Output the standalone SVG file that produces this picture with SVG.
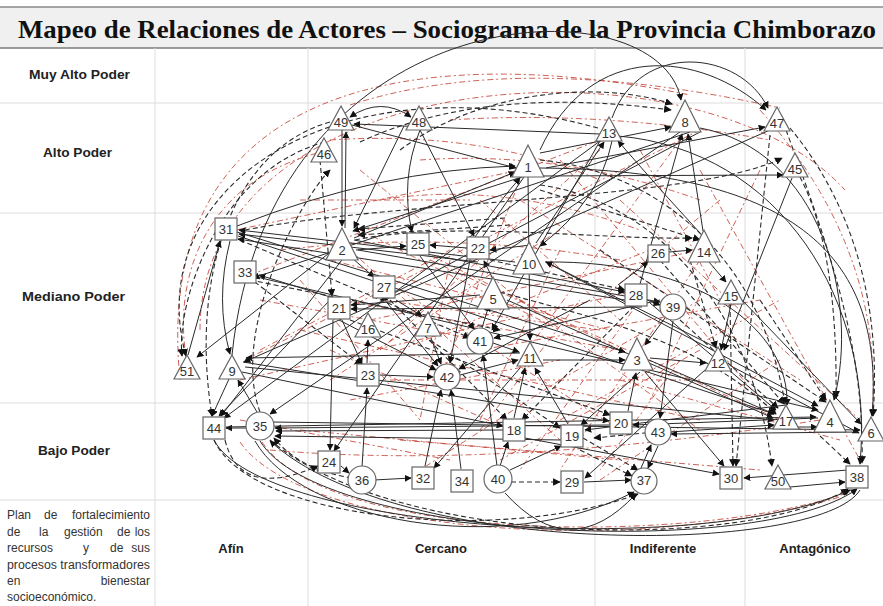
<svg xmlns="http://www.w3.org/2000/svg" xmlns:xlink="http://www.w3.org/1999/xlink" width="883" height="606" viewBox="0 0 883 606">
<style>
.g{stroke:#dcdcdc;stroke-width:1;fill:none}
.s{stroke:#2a2a2a;stroke-width:1;fill:none;marker-end:url(#a)}
.d{stroke:#2a2a2a;stroke-width:1.1;fill:none;stroke-dasharray:5,3;marker-end:url(#a)}
.r{stroke:#c0392b;stroke-width:1;fill:none;stroke-dasharray:6,3,2,3;opacity:.8}
.sh{fill:#fff;stroke:#666;stroke-width:1.2}
.lb{font-family:"Liberation Sans",Arial,sans-serif;font-size:13px;text-anchor:middle;fill:#333}
.rl{font-family:"Liberation Sans",Arial,sans-serif;font-size:13px;font-weight:bold;fill:#222}
.cl{font-family:"Liberation Sans",Arial,sans-serif;font-size:13px;font-weight:bold;fill:#222;text-anchor:middle}
.pt{font-family:"Liberation Sans",Arial,sans-serif;font-size:12px;fill:#333}
</style>
<defs>
<marker id="a" viewBox="0 0 10 10" refX="9" refY="5" markerWidth="7" markerHeight="7" orient="auto"><path d="M0,0 L10,5 L0,10z" fill="#111"/></marker>
<marker id="b" viewBox="0 0 10 10" refX="1" refY="5" markerWidth="7" markerHeight="7" orient="auto"><path d="M10,0 L0,5 L10,10z" fill="#111"/></marker>
<polygon id="t" class="sh" points="0,0 -13,24 13,24"/>
<polygon id="T" class="sh" points="0,0 -16,32 16,32"/>
<rect id="q" class="sh" x="-11" y="-11" width="22" height="22"/>
<circle id="c" class="sh" r="13"/>
</defs>
<rect width="883" height="606" fill="#fff"/>
<g id="grid">
<rect x="0" y="7" width="883" height="41" fill="#f0f0f0"/>
<line x1="0" y1="7" x2="883" y2="7" stroke="#8a8a8a" stroke-width="1.5"/>
<line x1="0" y1="48" x2="883" y2="48" stroke="#7a7a7a" stroke-width="1.5"/>
<line class="g" x1="0" y1="103" x2="883" y2="103"/>
<line class="g" x1="0" y1="213" x2="883" y2="213"/>
<line class="g" x1="0" y1="403" x2="883" y2="403"/>
<line class="g" x1="0" y1="500" x2="883" y2="500"/>
<line class="g" x1="155" y1="48" x2="155" y2="606"/>
<line class="g" x1="308" y1="48" x2="308" y2="606"/>
<line class="g" x1="595" y1="48" x2="595" y2="606"/>
<line class="g" x1="745" y1="48" x2="745" y2="606"/>
</g>
<text x="18" y="38" textLength="858" lengthAdjust="spacingAndGlyphs" font-family="Liberation Serif,Times New Roman,serif" font-size="26" font-weight="bold" fill="#111">Mapeo de Relaciones de Actores – Sociograma de la Provincia Chimborazo</text>
<g id="labels">
<text class="rl" x="29" y="79" textLength="101" lengthAdjust="spacingAndGlyphs">Muy Alto Poder</text>
<text class="rl" x="43" y="157" textLength="69" lengthAdjust="spacingAndGlyphs">Alto Poder</text>
<text class="rl" x="22" y="301" textLength="103" lengthAdjust="spacingAndGlyphs">Mediano Poder</text>
<text class="rl" x="38" y="455" textLength="72" lengthAdjust="spacingAndGlyphs">Bajo Poder</text>
<text class="cl" x="231" y="553">Afín</text>
<text class="cl" x="441" y="553">Cercano</text>
<text class="cl" x="663" y="553">Indiferente</text>
<text class="cl" x="815" y="553">Antagónico</text>
<text class="pt" y="519"><tspan x="7">Plan</tspan><tspan x="44">de</tspan><tspan x="150" text-anchor="end">fortalecimiento</tspan></text>
<text class="pt" y="536"><tspan x="7">de</tspan><tspan x="39">la</tspan><tspan x="64">gestión</tspan><tspan x="117">de</tspan><tspan x="150" text-anchor="end">los</tspan></text>
<text class="pt" y="552"><tspan x="7">recursos</tspan><tspan x="83">y</tspan><tspan x="110">de</tspan><tspan x="150" text-anchor="end">sus</tspan></text>
<text class="pt" y="569" x="7" textLength="143" lengthAdjust="spacingAndGlyphs">procesos transformadores</text>
<text class="pt" y="585"><tspan x="7">en</tspan><tspan x="150" text-anchor="end">bienestar</tspan></text>
<text class="pt" y="601" x="7">socioeconómico.</text>
</g>
<g id="connectors">
<g id="red">
<path class="r" d="M200,330 C200,60 700,30 845,190"/>
<path class="r" d="M180,380 C150,80 420,40 690,95"/>
<path class="r" d="M350,105 Q520,50 780,108"/>
<path class="r" d="M760,110 Q885,250 872,416"/>
<path class="r" d="M190,375 C170,300 190,180 330,150"/>
<path class="r" d="M262,442 C330,545 700,545 850,492"/>
<path class="r" d="M240,442 C300,530 620,560 840,497"/>
<path class="r" d="M236,230 L520,170"/>
<path class="r" d="M250,275 L600,140"/>
<path class="r" d="M245,360 L700,130"/>
<path class="r" d="M340,300 L620,350"/>
<path class="r" d="M370,320 L700,250"/>
<path class="r" d="M420,250 L640,360"/>
<path class="r" d="M480,350 L760,300"/>
<path class="r" d="M430,260 L780,420"/>
<path class="r" d="M350,250 L560,440"/>
<path class="r" d="M400,290 L620,430"/>
<path class="r" d="M330,350 L510,430"/>
<path class="r" d="M260,300 L480,340"/>
<path class="r" d="M240,380 L640,290"/>
<path class="r" d="M390,380 L700,380"/>
<path class="r" d="M520,180 L440,380"/>
<path class="r" d="M600,150 L380,350"/>
<path class="r" d="M680,140 L520,360"/>
<path class="r" d="M700,260 L560,470"/>
<path class="r" d="M640,300 L520,470"/>
<path class="r" d="M760,170 L650,400"/>
<path class="r" d="M560,420 L780,300"/>
<path class="r" d="M360,170 L520,300"/>
<path class="r" d="M300,200 L470,200"/>
<path class="r" d="M420,160 Q560,150 700,200"/>
<path class="r" d="M450,120 Q600,110 770,140"/>
<path class="r" d="M380,200 Q500,180 640,230"/>
<path class="r" d="M520,200 L800,380"/>
<path class="r" d="M620,200 L860,420"/>
<path class="r" d="M700,170 L860,460"/>
<path class="r" d="M240,420 L450,460"/>
<path class="r" d="M300,430 L620,460"/>
<path class="r" d="M400,440 L760,470"/>
<path class="r" d="M270,450 Q500,470 820,420"/>
<path class="r" d="M480,430 L580,300"/>
<path class="r" d="M600,480 L780,360"/>
<path class="r" d="M450,300 L560,230"/>
<path class="r" d="M700,350 L500,460"/>
<path class="r" d="M330,380 L470,290"/>
<path class="r" d="M280,250 Q450,230 620,260"/>
<path class="r" d="M330,140 Q480,130 600,180"/>
<path class="r" d="M640,150 L720,300"/>
<path class="r" d="M560,160 L760,400"/>
<path class="r" d="M300,330 L700,420"/>
<path class="r" d="M330,260 L610,330"/>
<path class="r" d="M360,230 L560,330"/>
<path class="r" d="M400,350 L650,250"/>
<path class="r" d="M450,260 L420,420"/>
<path class="r" d="M560,250 L480,420"/>
<path class="r" d="M600,330 L380,300"/>
<path class="r" d="M700,300 L560,380"/>
<path class="r" d="M520,300 L700,430"/>
<path class="r" d="M350,400 L560,360"/>
<path class="r" d="M260,350 L450,250"/>
<path class="r" d="M620,380 L840,440"/>
<path class="r" d="M560,380 L420,470"/>
<path class="r" d="M680,360 L600,470"/>
<path class="r" d="M300,280 L420,420"/>
<path class="r" d="M480,200 L620,320"/>
<path class="r" d="M720,200 L600,300"/>
</g>
<g id="dashed">
<path class="d" d="M598,128 C330,55 140,190 186,356"/>
<path class="d" d="M325,142 C220,170 176,300 182,356"/>
<path class="d" d="M330,122 C230,150 190,280 212,416"/>
<path class="d" d="M400,150 C480,90 600,80 672,104"/>
<path class="d" d="M360,142 C450,100 560,95 671,110"/>
<path class="d" d="M790,128 C850,200 882,300 873,416"/>
<path class="d" d="M800,177 Q838,250 836,398"/>
<path class="d" d="M786,130 C830,250 865,350 862,463"/>
<path class="d" d="M214,440 C250,520 500,545 638,494"/>
<path class="d" d="M270,440 C400,550 750,550 848,489"/>
<path class="d" d="M505,218 L358,229"/>
<path class="d" d="M510,225 L358,235"/>
<path class="d" d="M511,482 L560,482"/>
<path class="d" d="M583,438 L638,470"/>
<path class="d" d="M355,240 C450,220 600,240 692,238"/>
<path class="d" d="M540,190 L700,240"/>
<path class="d" d="M490,260 L625,290"/>
<path class="d" d="M250,280 L500,330"/>
<path class="d" d="M240,240 L470,338"/>
<path class="d" d="M390,300 L507,420"/>
<path class="d" d="M430,340 L560,428"/>
<path class="d" d="M350,320 L610,415"/>
<path class="d" d="M690,260 L716,348"/>
<path class="d" d="M760,300 L826,400"/>
<path class="d" d="M540,160 C650,170 760,250 785,404"/>
<path class="d" d="M320,160 L332,296"/>
<path class="d" d="M242,272 L362,365"/>
<path class="d" d="M680,320 L778,408"/>
<path class="d" d="M600,250 L826,402"/>
<path class="d" d="M660,260 L784,404"/>
<path class="d" d="M245,230 C400,200 700,200 782,158"/>
<path class="d" d="M540,185 C650,200 750,300 772,466"/>
<path class="d" d="M770,135 L736,466"/>
<path class="d" d="M730,304 L733,466"/>
<path class="d" d="M580,450 L632,476"/>
<path class="d" d="M640,300 L522,420"/>
<path class="d" d="M352,478 Q300,470 274,438"/>
<path class="d" d="M225,440 Q240,500 318,466"/>
<path class="d" d="M820,436 L850,464"/>
<path class="d" d="M260,412 C230,330 300,200 330,170"/>
<path class="d" d="M500,292 C600,320 700,340 776,414"/>
<path class="d" d="M655,432 L594,438"/>
</g>
<g id="solid">
<path class="s" d="M232,355 C270,-10 660,-20 681,100"/>
<path class="s" d="M540,150 C590,40 700,50 766,110"/>
<path class="s" d="M612,118 C640,40 740,50 768,108"/>
<path class="s" d="M350,117 Q381,96 411,117" marker-start="url(#b)"/>
<path class="s" d="M600,134 L354,124"/>
<path class="s" d="M540,153 L671,127"/>
<path class="s" d="M540,176 L783,175"/>
<path class="s" d="M546,168 L765,127"/>
<path class="s" d="M703,231 L688,134"/>
<path class="s" d="M237,226 Q380,170 515,166"/>
<path class="s" d="M352,125 L516,168"/>
<path class="s" d="M354,238 L515,172"/>
<path class="s" d="M525,176 L353,231"/>
<path class="s" d="M475,237 Q500,200 520,178"/>
<path class="s" d="M612,141 Q600,200 540,246"/>
<path class="s" d="M536,243 L604,142"/>
<path class="s" d="M700,233 Q660,190 618,141"/>
<path class="s" d="M640,284 L682,134"/>
<path class="s" d="M188,355 L220,241"/>
<path class="s" d="M333,250 L197,357"/>
<path class="s" d="M230,241 Q215,300 230,354"/>
<path class="s" d="M520,353 L246,358"/>
<path class="s" d="M340,300 L259,275"/>
<path class="s" d="M515,262 L239,230"/>
<path class="s" d="M478,262 L239,234"/>
<path class="s" d="M330,300 L219,416"/>
<path class="s" d="M345,256 L221,416"/>
<path class="s" d="M503,430 L276,431"/>
<path class="s" d="M562,440 L275,436"/>
<path class="s" d="M610,425 L275,428"/>
<path class="s" d="M246,428 L226,428"/>
<path class="s" d="M860,490 C820,555 400,560 270,441"/>
<path class="s" d="M255,441 C300,520 500,560 634,492"/>
<path class="s" d="M505,493 Q570,565 636,494"/>
<path class="s" d="M214,440 C260,530 700,560 850,490"/>
<path class="s" d="M260,441 C320,540 760,560 857,489"/>
<path class="s" d="M540,168 C800,170 885,260 872,416"/>
<path class="s" d="M700,128 C820,150 860,300 834,400"/>
<path class="s" d="M618,136 C780,150 875,300 860,464"/>
<path class="s" d="M545,262 C700,260 790,330 787,405"/>
<path class="s" d="M650,303 L776,410"/>
<path class="s" d="M507,300 L773,418"/>
<path class="s" d="M649,360 L774,414"/>
<path class="s" d="M546,262 L818,406"/>
<path class="s" d="M742,300 L861,424"/>
<path class="s" d="M731,366 L859,433"/>
<path class="s" d="M798,427 L817,427"/>
<path class="s" d="M645,372 L724,466"/>
<path class="s" d="M525,438 L719,474"/>
<path class="s" d="M790,487 L845,482"/>
<path class="s" d="M339,320 L436,370"/>
<path class="s" d="M480,295 L351,305"/>
<path class="s" d="M396,300 L422,316"/>
<path class="s" d="M431,338 L441,364"/>
<path class="s" d="M482,328 L489,305"/>
<path class="s" d="M493,279 L484,261"/>
<path class="s" d="M356,250 L406,246"/>
<path class="s" d="M352,258 L374,277"/>
<path class="s" d="M380,375 L433,377"/>
<path class="s" d="M367,363 L368,340"/>
<path class="s" d="M342,320 L362,364"/>
<path class="s" d="M460,375 L518,360"/>
<path class="s" d="M493,343 L519,352"/>
<path class="s" d="M543,360 L625,360"/>
<path class="s" d="M650,358 L706,363"/>
<path class="s" d="M665,318 L645,345"/>
<path class="s" d="M673,321 L660,418"/>
<path class="s" d="M628,411 L636,373"/>
<path class="s" d="M568,424 L535,368"/>
<path class="s" d="M514,418 L525,368"/>
<path class="s" d="M500,466 L508,442"/>
<path class="s" d="M510,470 L561,446"/>
<path class="s" d="M584,482 L631,480"/>
<path class="s" d="M641,468 L651,445"/>
<path class="s" d="M374,480 L411,478"/>
<path class="s" d="M341,466 L349,473"/>
<path class="s" d="M333,320 L330,450"/>
<path class="s" d="M362,467 L367,388"/>
<path class="s" d="M425,466 L441,390"/>
<path class="s" d="M461,469 L451,390"/>
<path class="s" d="M497,466 L483,355"/>
<path class="s" d="M257,412 L238,380"/>
<path class="s" d="M229,379 L212,416"/>
<path class="s" d="M530,245 L490,250"/>
<path class="s" d="M467,248 L430,245"/>
<path class="s" d="M669,252 L692,250"/>
<path class="s" d="M618,285 L648,262"/>
<path class="s" d="M709,262 L726,282"/>
<path class="s" d="M731,304 L721,350"/>
<path class="s" d="M647,300 L660,305"/>
<path class="s" d="M792,178 L724,350"/>
<path class="s" d="M245,367 L774,420"/>
<path class="s" d="M226,427 L816,417"/>
<path class="s" d="M272,422 L860,430"/>
<path class="s" d="M238,236 L774,414"/>
<path class="s" d="M257,277 L818,410"/>
<path class="s" d="M237,232 L625,352"/>
<path class="s" d="M354,240 L625,292"/>
<path class="s" d="M358,250 L660,302"/>
<path class="s" d="M243,362 L609,421"/>
<path class="s" d="M242,372 L503,426"/>
<path class="s" d="M680,132 L270,414"/>
<path class="s" d="M600,141 L224,418"/>
<path class="s" d="M524,177 L334,451"/>
<path class="s" d="M770,130 L244,362"/>
<path class="s" d="M700,132 L381,300"/>
<path class="s" d="M690,132 L253,278"/>
<path class="s" d="M625,300 L238,239"/>
<path class="s" d="M642,307 L351,309"/>
<path class="s" d="M660,300 L494,338"/>
<path class="s" d="M717,348 L546,262"/>
<path class="s" d="M786,405 L585,430"/>
<path class="s" d="M818,418 L633,425"/>
<path class="s" d="M858,432 L671,434"/>
<path class="s" d="M520,368 L434,468"/>
<path class="s" d="M640,372 L581,425"/>
<path class="s" d="M705,370 L585,478"/>
<path class="s" d="M600,141 L492,330"/>
<path class="s" d="M528,177 L530,340"/>
<path class="s" d="M420,130 L474,236"/>
<path class="s" d="M342,130 L342,226"/>
<path class="s" d="M345,228 L346,132"/>
<path class="s" d="M420,130 Q400,180 412,232"/>
<path class="s" d="M404,126 L354,228"/>
<path class="s" d="M848,470 L744,478"/>
<path class="s" d="M658,446 L648,468"/>
<path class="s" d="M670,432 L774,425"/>
<path class="s" d="M420,256 L474,329"/>
<path class="s" d="M384,299 L438,366"/>
<path class="s" d="M470,260 L450,363"/>
<path class="s" d="M590,300 L459,369"/>
</g>
</g>
<g id="nodes">
<g id="n49"><use href="#t" x="341" y="106"/><text class="lb" x="341" y="127">49</text></g>
<g id="n48"><use href="#t" x="419" y="106"/><text class="lb" x="419" y="127">48</text></g>
<g id="n46"><use href="#t" x="324" y="138"/><text class="lb" x="324" y="159">46</text></g>
<g id="n13"><use href="#t" x="609" y="117"/><text class="lb" x="609" y="138">13</text></g>
<g id="n8"><use href="#T" x="685" y="100"/><text class="lb" x="685" y="127">8</text></g>
<g id="n47"><use href="#t" x="777" y="107"/><text class="lb" x="777" y="128">47</text></g>
<g id="n1"><use href="#T" x="528" y="145"/><text class="lb" x="528" y="172">1</text></g>
<g id="n45"><use href="#t" x="795" y="153"/><text class="lb" x="795" y="174">45</text></g>
<g id="n2"><use href="#T" x="342" y="228"/><text class="lb" x="342" y="255">2</text></g>
<g id="n10"><use href="#T" x="529" y="242"/><text class="lb" x="529" y="269">10</text></g>
<g id="n14"><use href="#T" x="704" y="230"/><text class="lb" x="704" y="257">14</text></g>
<g id="n5"><use href="#T" x="493" y="277"/><text class="lb" x="493" y="304">5</text></g>
<g id="n15"><use href="#t" x="731" y="280"/><text class="lb" x="731" y="301">15</text></g>
<g id="n16"><use href="#t" x="368" y="313"/><text class="lb" x="368" y="334">16</text></g>
<g id="n7"><use href="#t" x="428" y="312"/><text class="lb" x="428" y="333">7</text></g>
<g id="n51"><use href="#t" x="187" y="355"/><text class="lb" x="187" y="376">51</text></g>
<g id="n9"><use href="#t" x="232" y="355"/><text class="lb" x="232" y="376">9</text></g>
<g id="n11"><use href="#t" x="530" y="342"/><text class="lb" x="530" y="363">11</text></g>
<g id="n3"><use href="#T" x="637" y="338"/><text class="lb" x="637" y="365">3</text></g>
<g id="n12"><use href="#t" x="718" y="347"/><text class="lb" x="718" y="368">12</text></g>
<g id="n17"><use href="#t" x="786" y="405"/><text class="lb" x="786" y="426">17</text></g>
<g id="n4"><use href="#T" x="830" y="400"/><text class="lb" x="830" y="427">4</text></g>
<g id="n6"><use href="#t" x="871" y="417"/><text class="lb" x="871" y="438">6</text></g>
<g id="n50"><use href="#t" x="778" y="465"/><text class="lb" x="778" y="486">50</text></g>
<g id="n31"><use href="#q" x="226" y="229"/><text class="lb" x="226" y="234">31</text></g>
<g id="n33"><use href="#q" x="245" y="272"/><text class="lb" x="245" y="277">33</text></g>
<g id="n25"><use href="#q" x="418" y="244"/><text class="lb" x="418" y="249">25</text></g>
<g id="n22"><use href="#q" x="478" y="248"/><text class="lb" x="478" y="253">22</text></g>
<g id="n27"><use href="#q" x="384" y="287"/><text class="lb" x="384" y="292">27</text></g>
<g id="n26"><rect class="sh" x="648" y="245" width="21" height="17"/><text class="lb" x="658" y="258" font-size="11">26</text></g>
<g id="n28"><use href="#q" x="636" y="295"/><text class="lb" x="636" y="300">28</text></g>
<g id="n21"><use href="#q" x="339" y="308"/><text class="lb" x="339" y="313">21</text></g>
<g id="n23"><use href="#q" x="368" y="375"/><text class="lb" x="368" y="380">23</text></g>
<g id="n44"><use href="#q" x="214" y="428"/><text class="lb" x="214" y="433">44</text></g>
<g id="n18"><use href="#q" x="514" y="430"/><text class="lb" x="514" y="435">18</text></g>
<g id="n19"><use href="#q" x="572" y="436"/><text class="lb" x="572" y="441">19</text></g>
<g id="n20"><use href="#q" x="621" y="423"/><text class="lb" x="621" y="428">20</text></g>
<g id="n24"><use href="#q" x="329" y="462"/><text class="lb" x="329" y="467">24</text></g>
<g id="n32"><use href="#q" x="423" y="478"/><text class="lb" x="423" y="483">32</text></g>
<g id="n34"><use href="#q" x="462" y="481"/><text class="lb" x="462" y="486">34</text></g>
<g id="n29"><use href="#q" x="572" y="482"/><text class="lb" x="572" y="487">29</text></g>
<g id="n30"><use href="#q" x="731" y="478"/><text class="lb" x="731" y="483">30</text></g>
<g id="n38"><use href="#q" x="857" y="477"/><text class="lb" x="857" y="482">38</text></g>
<g id="n41"><use href="#c" x="480" y="341"/><text class="lb" x="480" y="346">41</text></g>
<g id="n42"><use href="#c" x="447" y="377"/><text class="lb" x="447" y="382">42</text></g>
<g id="n39"><use href="#c" x="673" y="307"/><text class="lb" x="673" y="312">39</text></g>
<g id="n35"><circle class="sh" cx="260" cy="426" r="14"/><text class="lb" x="260" y="431">35</text></g>
<g id="n43"><use href="#c" x="658" y="432"/><text class="lb" x="658" y="437">43</text></g>
<g id="n36"><circle class="sh" cx="362" cy="480" r="14"/><text class="lb" x="362" y="485">36</text></g>
<g id="n40"><circle class="sh" cx="498" cy="479" r="14"/><text class="lb" x="498" y="484">40</text></g>
<g id="n37"><use href="#c" x="644" y="481"/><text class="lb" x="644" y="485" font-size="10">37</text></g>
</g>
</svg>
